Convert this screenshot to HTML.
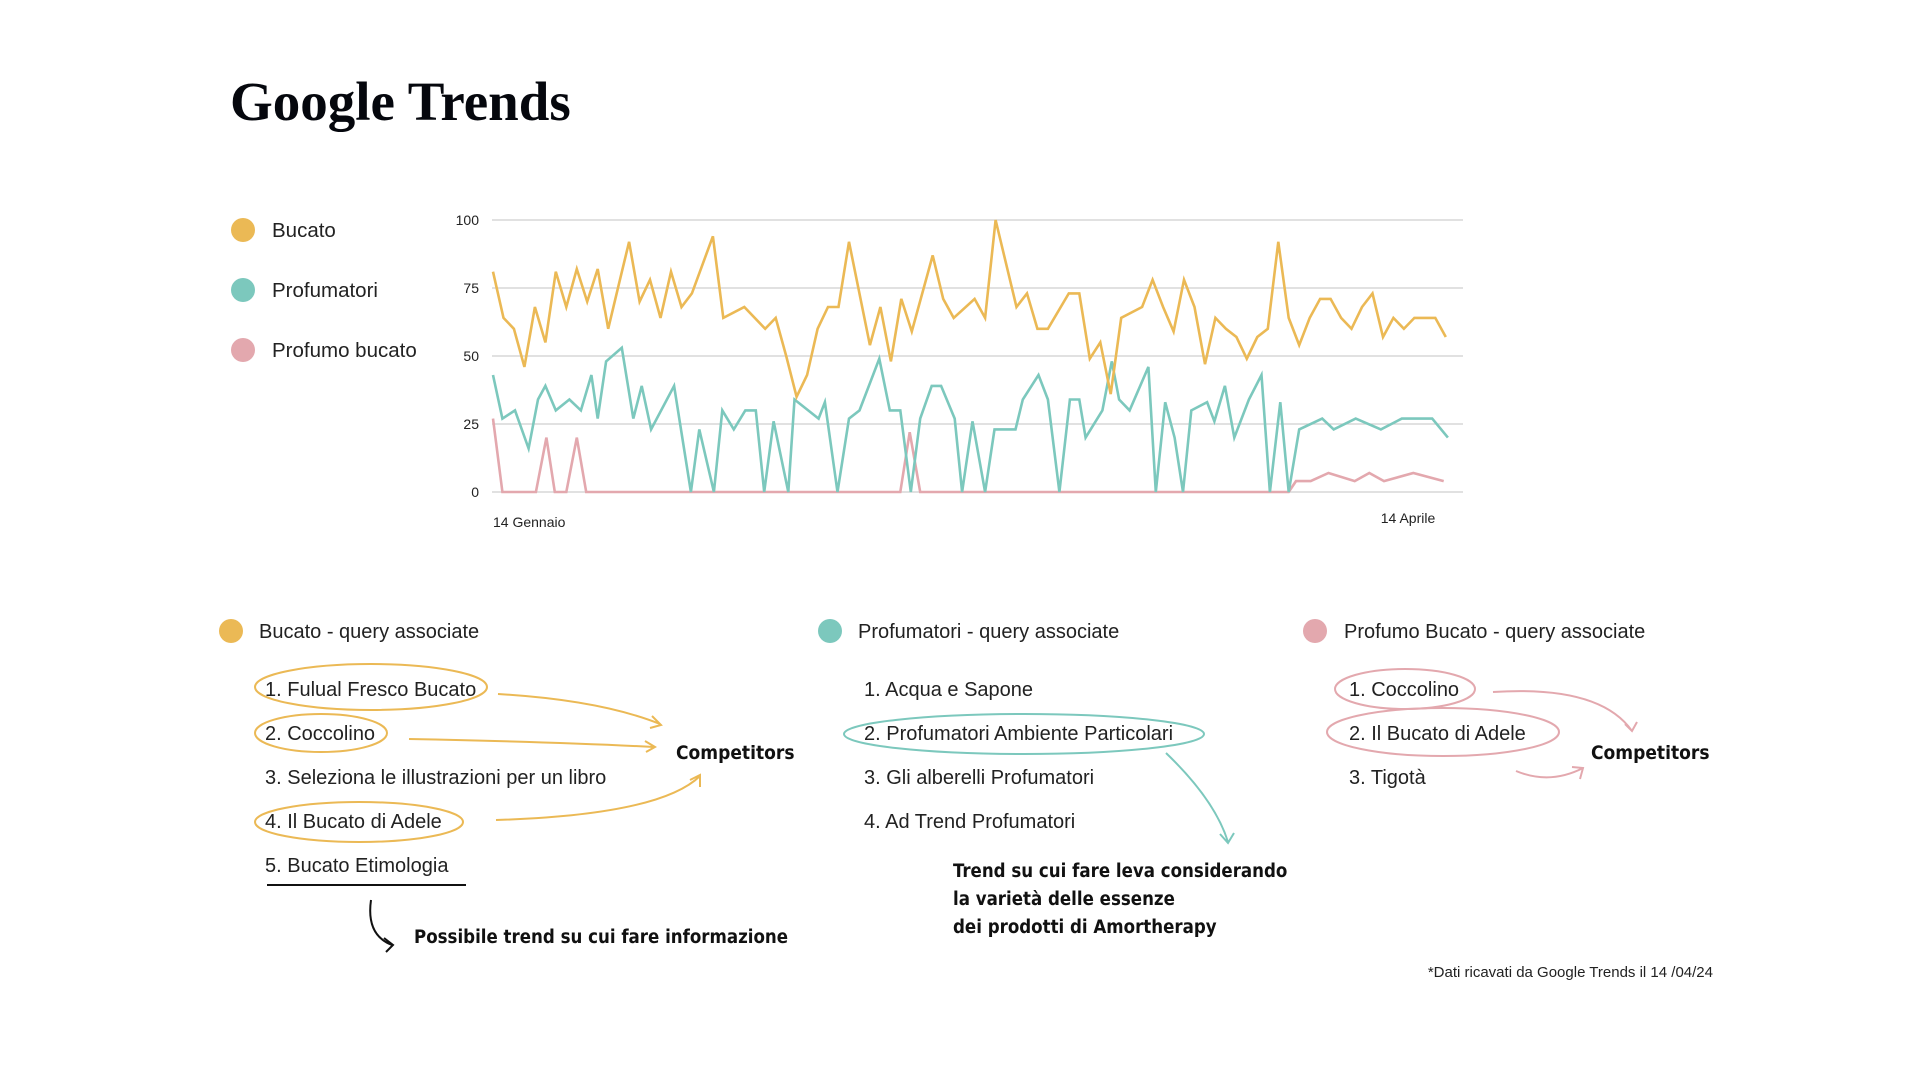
<!DOCTYPE html>
<html><head><meta charset="utf-8"><style>
html,body{margin:0;padding:0;background:#fff;}
svg{display:block;}
.t{font-family:"Liberation Sans",sans-serif;fill:#222;}
.h{font-family:"DejaVu Sans Condensed","Liberation Sans",sans-serif;font-weight:bold;fill:#111;}
</style></head><body>
<svg id="page" width="1920" height="1080" viewBox="0 0 1920 1080" xmlns="http://www.w3.org/2000/svg">
<text x="230" y="120" font-family="Liberation Serif,serif" font-weight="bold" font-size="55" fill="#05070d">Google Trends</text>

<g>
<circle cx="243" cy="230" r="12" fill="#EBB955"/>
<text class="t" x="272" y="237" font-size="20.5">Bucato</text>
<circle cx="243" cy="290" r="12" fill="#7CC8BD"/>
<text class="t" x="272" y="297" font-size="20.5">Profumatori</text>
<circle cx="243" cy="350" r="12" fill="#E3A8AE"/>
<text class="t" x="272" y="357" font-size="20.5">Profumo bucato</text>
</g>

<g id="chart"></g>

<!-- Bucato queries -->
<g>
<circle cx="231" cy="631" r="12" fill="#EBB955"/>
<text class="t" x="259" y="638" font-size="20">Bucato - query associate</text>
<text class="t" x="265" y="696" font-size="20">1. Fulual Fresco Bucato</text>
<text class="t" x="265" y="740" font-size="20">2. Coccolino</text>
<text class="t" x="265" y="784" font-size="20">3. Seleziona le illustrazioni per un libro</text>
<text class="t" x="265" y="828" font-size="20">4. Il Bucato di Adele</text>
<text class="t" x="265" y="872" font-size="20">5. Bucato Etimologia</text>
<g fill="none" stroke="#EBB955" stroke-width="2">
<ellipse cx="371" cy="687" rx="116" ry="23"/>
<ellipse cx="321" cy="733" rx="66" ry="19"/>
<ellipse cx="359" cy="822" rx="104" ry="20"/>
<path d="M498 694 Q600 700 660 724 M652 716 L661 725 L650 728"/>
<path d="M409 739 Q560 742 654 747 M645 741 L655 747 L646 752"/>
<path d="M496 820 Q660 815 700 776 M690 780 L700 775 L700 787"/>
</g>
<line x1="267" y1="885" x2="466" y2="885" stroke="#111" stroke-width="2"/>
<path d="M371 900 Q366 935 392 945 M384 938 L393 945 L386 952" fill="none" stroke="#111" stroke-width="2"/>
<text class="h" x="676" y="759" font-size="19">Competitors</text>
<text class="h" x="414" y="943" font-size="18.5">Possibile trend su cui fare informazione</text>
</g>

<!-- Profumatori queries -->
<g>
<circle cx="830" cy="631" r="12" fill="#7CC8BD"/>
<text class="t" x="858" y="638" font-size="20">Profumatori - query associate</text>
<text class="t" x="864" y="696" font-size="20">1. Acqua e Sapone</text>
<text class="t" x="864" y="740" font-size="20">2. Profumatori Ambiente Particolari</text>
<text class="t" x="864" y="784" font-size="20">3. Gli alberelli Profumatori</text>
<text class="t" x="864" y="828" font-size="20">4. Ad Trend Profumatori</text>
<g fill="none" stroke="#7CC8BD" stroke-width="2">
<ellipse cx="1024" cy="734" rx="180" ry="20"/>
<path d="M1166 753 Q1215 800 1228 842 M1220 834 L1228 843 L1234 833"/>
</g>
<text class="h" x="953" y="877" font-size="18.5">Trend su cui fare leva considerando</text>
<text class="h" x="953" y="905" font-size="18.5">la varietà delle essenze</text>
<text class="h" x="953" y="933" font-size="18.5">dei prodotti di Amortherapy</text>
</g>

<!-- Profumo bucato queries -->
<g>
<circle cx="1315" cy="631" r="12" fill="#E3A8AE"/>
<text class="t" x="1344" y="638" font-size="20">Profumo Bucato - query associate</text>
<text class="t" x="1349" y="696" font-size="20">1. Coccolino</text>
<text class="t" x="1349" y="740" font-size="20">2. Il Bucato di Adele</text>
<text class="t" x="1349" y="784" font-size="20">3. Tigotà</text>
<g fill="none" stroke="#E3A8AE" stroke-width="2">
<ellipse cx="1405" cy="689" rx="70" ry="20"/>
<ellipse cx="1443" cy="732" rx="116" ry="24"/>
<path d="M1493 692 Q1600 685 1632 731 M1625 724 L1632 731 L1637 722"/>
<path d="M1516 771 Q1550 785 1583 768 M1572 767 L1583 768 L1580 779"/>
</g>
<text class="h" x="1591" y="759" font-size="19">Competitors</text>
</g>

<text class="t" x="1713" y="977" font-size="15" text-anchor="end">*Dati ricavati da Google Trends il 14 /04/24</text>
</svg>
<script>
const yTicks = [0, 25, 50, 75, 100];
const xLabels = ["14 Gennaio", "14 Aprile"];
const xLabelDays = [0, 91];
const bucatoDays = [0,1,2,3,4,5,6,7,8,9,10,11,12,13,14,15,16,17,18,19,21,22,24,26,27,28,29,30,31,32,33,34,36,37,38,39,40,42,43,44,46,47,48,50,51,52,53,55,56,57,58,59,60,62,63,64,65,66,67,68,69,70,71,72,73,74,75,76,77,78,79,80,81,82,83,84,85,86,87,88,90,91];
const bucatoValues = [81,64,60,46,68,55,81,68,82,70,82,60,76,92,70,78,64,81,68,73,94,64,68,60,64,50,35,43,60,68,68,92,54,68,48,71,59,87,71,64,71,64,100,68,73,60,60,73,73,49,55,36,64,68,78,68,59,78,68,47,64,60,57,49,57,60,92,64,54,64,71,71,64,60,68,73,57,64,60,64,64,57];
const profDays = [0,0.9,2.1,3.4,4.3,5,6,7.3,8.4,9.4,10,10.8,12.3,13.4,14.2,15.1,17.3,18.9,19.7,21.1,21.9,23,24.1,25.1,25.9,26.8,28.2,28.8,31.1,31.7,32.9,34,35,36.9,37.9,38.9,39.9,40.8,41.9,42.8,44.1,44.8,45.8,47,47.9,49.9,50.6,52.1,53,54.1,55.1,56,56.6,58.2,59.1,59.8,60.8,62.6,63.3,64.2,65.1,65.9,66.7,68.2,68.9,69.9,70.8,72.2,73.4,74.2,75.2,76,77,79.2,80.3,82.4,84.8,86.8,89.7,91.2];
const profValues = [43,27,30,16,34,39,30,34,30,43,27,48,53,27,39,23,39,0,23,0,30,23,30,30,0,26,0,34,27,33,0,27,30,49,30,30,0,27,39,39,27,0,26,0,23,23,34,43,34,0,34,34,20,30,48,34,30,46,0,33,20,0,30,33,26,39,20,34,43,0,33,0,23,27,23,27,23,27,27,20];
const pbDays = [0,0.9,4.1,5.1,5.9,7,8,8.9,38.9,39.8,40.8,76,76.7,78.1,79.8,82.3,83.7,85.1,87.9,90.8];
const pbValues = [27,0,0,20,0,0,20,0,0,22,0,0,4,4,7,4,7,4,7,4];

const NS = "http://www.w3.org/2000/svg";
const g = document.getElementById("chart");
const X0 = 493, PXD = 10.47, Y0 = 492, Y100 = 220;
function xs(d){ return X0 + d * PXD; }
function ys(v){ return Y0 - (Y0 - Y100) * v / 100; }
function mk(tag, attrs){ const e = document.createElementNS(NS, tag); for (const k in attrs) e.setAttribute(k, attrs[k]); g.appendChild(e); return e; }

yTicks.forEach(function(t){
  const ln = mk("line", {x1: 492, x2: 1463, y1: ys(t), y2: ys(t), stroke: "#cfcfcf", "stroke-width": 1.3});
  
  
  const tx = mk("text", {x: 479, y: ys(t) + 5, "text-anchor": "end", "font-size": 14, "class": "t"});
  tx.textContent = t;
  
  
});
xLabels.forEach(function(l, i){
  const tx = mk("text", {x: xs(xLabelDays[i]) + (i ? -65 : 0), y: i ? 523 : 527, "font-size": 14, "class": "t"});
  tx.textContent = l;
  
  
});
function series(days, vals, color, name){
  const pts = days.map(function(d, i){ return xs(d).toFixed(1) + "," + ys(vals[i]).toFixed(1); }).join(" ");
  const p = mk("polyline", {points: pts, fill: "none", stroke: color, "stroke-width": 2.6, "stroke-linejoin": "miter"});
  
  
}
series(pbDays, pbValues, "#E3A8AE", "line-profumo-bucato");
series(profDays, profValues, "#7CC8BD", "line-profumatori");
series(bucatoDays, bucatoValues, "#EBB955", "line-bucato");
</script>
</body></html>
